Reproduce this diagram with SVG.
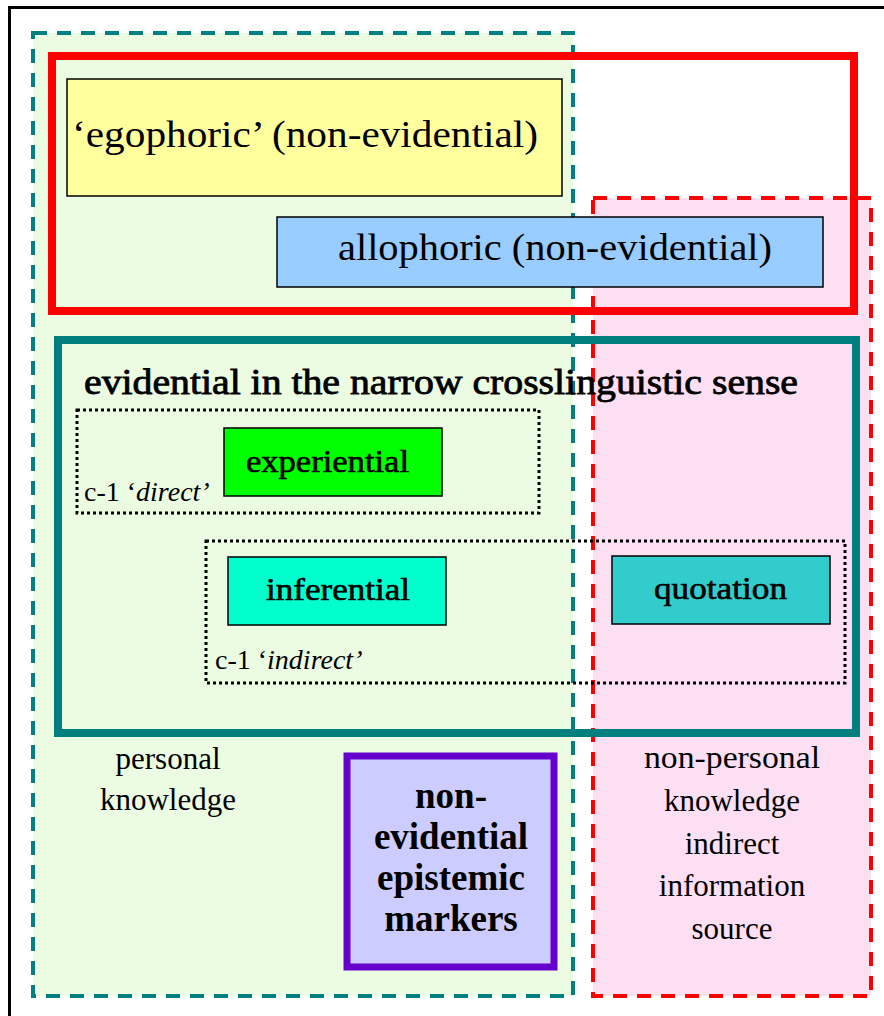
<svg xmlns="http://www.w3.org/2000/svg" width="884" height="1016" viewBox="0 0 884 1016">
<style>
text{font-family:"Liberation Serif","Times New Roman",serif;fill:#000}
.big{font-size:37px}
.head{font-size:35px;stroke:#000;stroke-width:0.8}
.lbl{font-size:31px;stroke:#000;stroke-width:0.6}
.note{font-size:31px}
.c1{font-size:28px}
.purple{font-size:37px;font-weight:bold}
.box{stroke:#000;stroke-width:1.5}
.dot{fill:none;stroke:#000;stroke-width:3;stroke-dasharray:3 3}
</style>
<rect x="0" y="0" width="884" height="1016" fill="#fff"/>
<g id="frame"><path d="M9.5 1016 V7.5 H884" fill="none" stroke="#000" stroke-width="3"/></g>
<g id="personal-knowledge">
<rect x="33" y="33" width="540" height="963" fill="#ECFCE2" stroke="#008080" stroke-width="4" stroke-dasharray="14 10"/>
<text class="note" text-anchor="middle" x="168" y="769">personal</text>
<text class="note" text-anchor="middle" x="168" y="810">knowledge</text>
</g>
<g id="non-personal-knowledge">
<rect x="593" y="198" width="278" height="798" fill="#FDDFF3" stroke="#FF0000" stroke-width="4" stroke-dasharray="14 10"/>
<text class="note" text-anchor="middle" x="732" y="768" textLength="176" lengthAdjust="spacingAndGlyphs">non-personal</text>
<text class="note" text-anchor="middle" x="732" y="811">knowledge</text>
<text class="note" text-anchor="middle" x="732" y="854">indirect</text>
<text class="note" text-anchor="middle" x="732" y="896">information</text>
<text class="note" text-anchor="middle" x="732" y="939">source</text>
</g>
<g id="non-evidential-group">
<rect x="52" y="56" width="802" height="255" fill="none" stroke="#FF0000" stroke-width="8"/>
</g>
<g id="egophoric">
<rect class="box" x="67" y="79" width="495" height="117" fill="#FFFF9E"/>
<text class="big" x="72" y="147" textLength="466" lengthAdjust="spacingAndGlyphs">‘egophoric’ (non-evidential)</text>
</g>
<g id="allophoric">
<rect class="box" x="277" y="217" width="546" height="70" fill="#99CCFF"/>
<text class="big" x="338" y="260" textLength="434" lengthAdjust="spacingAndGlyphs">allophoric (non-evidential)</text>
</g>
<g id="evidential-narrow">
<rect x="58" y="340" width="798" height="393" fill="none" stroke="#007F7F" stroke-width="8"/>
<text class="head" x="84" y="394" textLength="714" lengthAdjust="spacingAndGlyphs">evidential in the narrow crosslinguistic sense</text>
</g>
<g id="c1-direct">
<rect class="dot" x="77" y="410" width="462" height="103"/>
<text class="c1" x="84" y="501">c-1 ‘<tspan font-style="italic">direct’</tspan></text>
</g>
<g id="c1-indirect">
<rect class="dot" x="206" y="541" width="639" height="142"/>
<text class="c1" x="215" y="669">c-1 ‘<tspan font-style="italic">indirect’</tspan></text>
</g>
<g id="experiential">
<rect class="box" x="224" y="428" width="218" height="68" fill="#00FF00"/>
<text class="lbl" x="246" y="472" textLength="163" lengthAdjust="spacingAndGlyphs">experiential</text>
</g>
<g id="inferential">
<rect class="box" x="228" y="557" width="218" height="68" fill="#00FFCC"/>
<text class="lbl" x="266" y="600" textLength="144" lengthAdjust="spacingAndGlyphs">inferential</text>
</g>
<g id="quotation">
<rect class="box" x="612" y="556" width="218" height="68" fill="#33CCCC"/>
<text class="lbl" x="654" y="599" textLength="133" lengthAdjust="spacingAndGlyphs">quotation</text>
</g>
<g id="epistemic-markers">
<rect x="347" y="756" width="207" height="211" fill="#CCCCFF" stroke="#6600CC" stroke-width="7"/>
<text class="purple" text-anchor="middle" x="451" y="808">non-</text>
<text class="purple" text-anchor="middle" x="451" y="849">evidential</text>
<text class="purple" text-anchor="middle" x="451" y="890">epistemic</text>
<text class="purple" text-anchor="middle" x="451" y="931">markers</text>
</g>
<g id="connectors"/>
</svg>
